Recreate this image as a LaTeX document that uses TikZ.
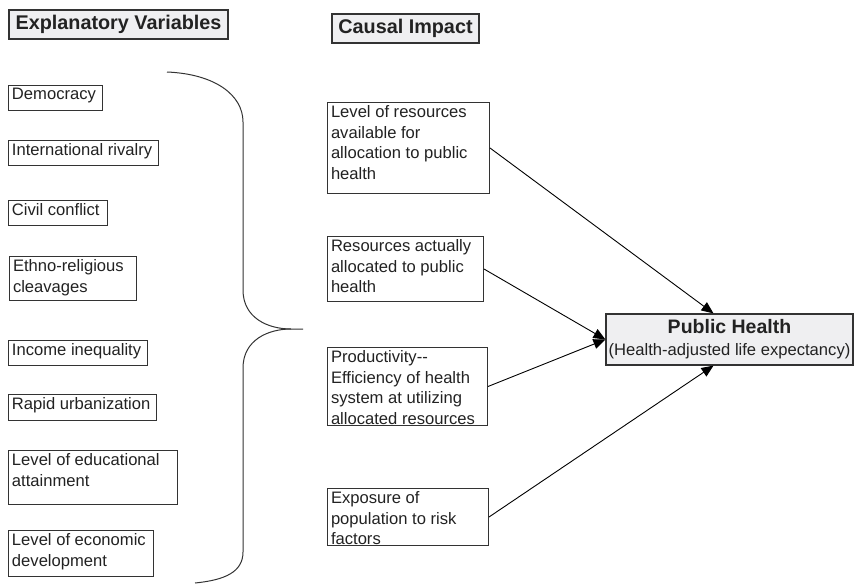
\documentclass[tikz,border=0pt]{standalone}
\usepackage{fontspec}
\setmainfont{Liberation Sans}
\usetikzlibrary{arrows.meta}
\definecolor{hdrfill}{HTML}{EFEFF1}
\definecolor{ink}{HTML}{222222}
\definecolor{edge}{HTML}{333333}
\newcommand{\bodyfont}{\fontsize{16.6}{20.5}\selectfont}
\newcommand{\headfont}{\fontsize{19.8}{23}\selectfont\bfseries}
\newcommand{\mkbox}[6]{%
  \node[vb] (#1) at (#2,#3) {\parbox[c][\dimexpr #5pt-#3pt-6pt\relax][t]{\dimexpr #4pt-#2pt-7pt\relax}{\raggedright #6}};}
\begin{document}
\begin{tikzpicture}[x=1pt,y=-1pt,
  vb/.style={draw=edge, line width=1pt, anchor=north west, inner xsep=3.5pt, inner ysep=3pt, font=\bodyfont, text=ink},
  hdr/.style={draw=edge, line width=1.2pt, fill=hdrfill, font=\headfont, text=ink, inner sep=0pt},
  arr/.style={draw=black, line width=0.9pt, -{Triangle[length=12pt,width=10pt]}},
  brace/.style={draw=edge, line width=1pt}]
\useasboundingbox (0,0) rectangle (856,584);
% headers
\node[hdr, minimum width=219pt, minimum height=29pt] (ev) at (118.5,24.5) {Explanatory Variables};
\node[hdr, minimum width=147pt, minimum height=29pt] (ci) at (405.5,28.5) {Causal Impact};
% explanatory variables
\mkbox{dem}{8}{85}{102}{110}{Democracy}
\mkbox{ir}{8}{140}{158}{165}{International rivalry}
\mkbox{cc}{8}{200}{107}{225}{Civil conflict}
\mkbox{eth}{9}{256}{136}{300}{Ethno-religious\\cleavages}
\mkbox{inc}{8}{340}{147}{365}{Income inequality}
\mkbox{urb}{8}{394}{156}{420}{Rapid urbanization}
\mkbox{edu}{8}{450}{177}{504}{Level of educational\\attainment}
\mkbox{eco}{8}{530}{153}{576}{Level of economic\\development}
% causal impact boxes
\mkbox{c1}{327}{102}{489}{193}{Level of resources\\available for\\allocation to public\\health}
\mkbox{c2}{327}{236}{483}{301}{Resources actually\\allocated to public\\health}
\mkbox{c3}{327}{347}{487}{425}{Productivity-{}-\\Efficiency of health\\system at utilizing\\allocated resources}
\mkbox{c4}{327}{488}{488}{545}{Exposure of\\population to risk\\factors}
% outcome
\node[draw=edge, line width=1.2pt, fill=hdrfill, minimum width=247pt, minimum height=51pt, inner sep=0pt, align=center, text=ink,
  font=\fontsize{16.6}{22}\selectfont] (ph) at (729.5,339.5)
  {{\fontsize{19.5}{22}\selectfont\bfseries Public Health}\\(Health-adjusted life expectancy)};
% brace
\coordinate (btip) at (303,329);
\draw[brace] (167,72) .. controls (215,74) and (243,95) .. (243,122)
  -- (243,290) .. controls (243,318) and (268,329) .. (291,329) -- (btip);
\draw[brace] (291,329) .. controls (268,329) and (243,340) .. (243,368)
  -- (243,552) .. controls (243,572) and (225,580) .. (195,583);
% arrows
\draw[arr] (c1.east) -- ([xshift=-16pt]ph.north);
\draw[arr] (c2.east) -- (ph.west);
\draw[arr] (c3.east) -- (ph.west);
\draw[arr] (c4.east) -- ([xshift=-16pt]ph.south);
\end{tikzpicture}
\end{document}
